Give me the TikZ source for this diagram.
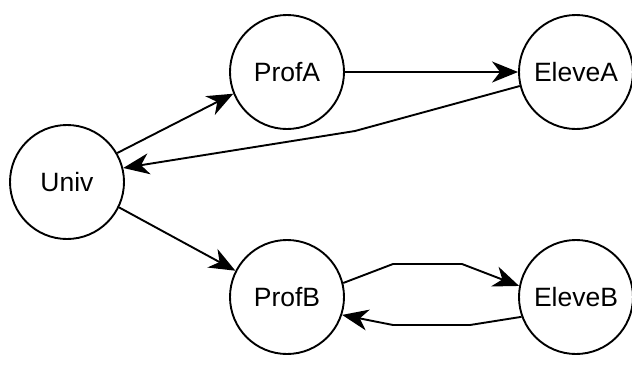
\documentclass[tikz,border=0pt]{standalone}
\usepackage{fontspec}
\setmainfont{Liberation Sans}
\usetikzlibrary{arrows.meta}
\begin{document}
\begin{tikzpicture}[x=1pt,y=-1pt,
  state/.style={draw,circle,line width=1.9pt,minimum size=114pt,inner sep=0pt,font=\fontsize{26.5}{30}\selectfont},
  link/.style={line width=1.9pt,-{Stealth[length=26pt,width=21pt,inset=8pt]}}]
\useasboundingbox (0,0) rectangle (632,365);
\node[state] (univ) at (67,182) {Univ};
\node[state] (profa) at (287,72) {ProfA};
\node[state] (elevea) at (576,72) {EleveA};
\node[state] (profb) at (287,297) {ProfB};
\node[state] (eleveb) at (576,297) {EleveB};
\coordinate (a1) at (355,131);
\coordinate (b1) at (393,264);
\coordinate (b2) at (462,264);
\coordinate (c1) at (470,325);
\coordinate (c2) at (393,325);
\draw[link] (univ.30) -- (profa.202);
\draw[link] (profa.east) -- (elevea.west);
\draw[link] (elevea.194) -- (a1) -- (univ.14);
\draw[link] (univ.-26) -- (profb.153);
\draw[link] (profb.14) -- (b1) -- (b2) -- (eleveb.169);
\draw[link] (eleveb.200) -- (c1) -- (c2) -- (profb.-18);
\end{tikzpicture}
\end{document}
